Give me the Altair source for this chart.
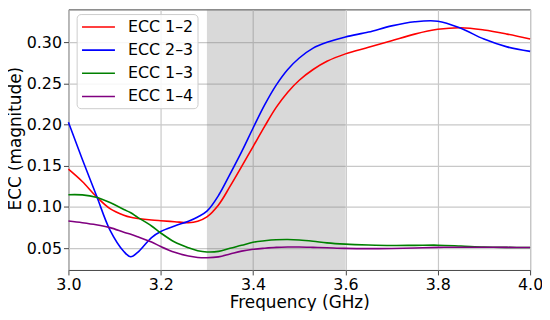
import altair as alt
import pandas as pd

freq = [3.00, 3.03, 3.06, 3.09, 3.12, 3.135, 3.15, 3.18, 3.20, 3.23, 3.26, 3.28,
        3.30, 3.325, 3.35, 3.375, 3.40, 3.425, 3.45, 3.475, 3.50, 3.53, 3.56,
        3.60, 3.65, 3.70, 3.75, 3.80, 3.85, 3.90, 3.95, 4.00]

ecc_12 = [0.146, 0.131, 0.113, 0.098, 0.090, 0.0875, 0.0862, 0.0843, 0.0834, 0.0822, 0.0810, 0.0828,
          0.088, 0.1025, 0.125, 0.149, 0.1735, 0.198, 0.221, 0.2395, 0.254, 0.267, 0.277,
          0.286, 0.294, 0.302, 0.310, 0.3158, 0.3178, 0.315, 0.310, 0.304]
ecc_23 = [0.203, 0.158, 0.115, 0.072, 0.046, 0.0396, 0.045, 0.063, 0.0704, 0.077, 0.0828, 0.088,
          0.095, 0.114, 0.140, 0.167, 0.196, 0.224, 0.248, 0.267, 0.281, 0.293, 0.300,
          0.3066, 0.3125, 0.320, 0.325, 0.3257, 0.317, 0.304, 0.2945, 0.289]
ecc_13 = [0.115, 0.1148, 0.112, 0.1055, 0.097, 0.093, 0.0875, 0.077, 0.0685, 0.0575, 0.0505, 0.047,
          0.0455, 0.0462, 0.050, 0.0535, 0.0572, 0.059, 0.0602, 0.0605, 0.060, 0.0585, 0.0565,
          0.055, 0.054, 0.0534, 0.0535, 0.0537, 0.0527, 0.0515, 0.051, 0.0508]
ecc_14 = [0.083, 0.081, 0.0785, 0.075, 0.0695, 0.067, 0.064, 0.0575, 0.052, 0.045, 0.0405, 0.0388,
          0.0384, 0.0395, 0.043, 0.0465, 0.0487, 0.050, 0.051, 0.0514, 0.0514, 0.051, 0.0505,
          0.0498, 0.0495, 0.0497, 0.0503, 0.051, 0.0512, 0.0512, 0.051, 0.0508]

series_names = ["ECC 1–2", "ECC 2–3", "ECC 1–3", "ECC 1–4"]
series_colors = ["#ff0000", "#0000ff", "#008000", "#800080"]
band_start = [3.3]
band_end = [3.6]
x_ticks = [3.0, 3.2, 3.4, 3.6, 3.8, 4.0]
y_ticks = [0.05, 0.10, 0.15, 0.20, 0.25, 0.30]
x_domain = [3.0, 4.0]
y_domain = [0.0236, 0.340]

rows = []
for name, vals in zip(series_names, [ecc_12, ecc_23, ecc_13, ecc_14]):
    for f, v in zip(freq, vals):
        rows.append({"freq": f, "ecc": v, "series": name})
df = pd.DataFrame(rows)
band_df = pd.DataFrame({"start": band_start, "end": band_end})

W, H = 466, 263
FONT = "DejaVu Sans"

xscale = alt.Scale(domain=x_domain, nice=False, zero=False)
yscale = alt.Scale(domain=y_domain, nice=False, zero=False)

band = alt.Chart(band_df).mark_rect(color="#808080", opacity=0.3).encode(
    x=alt.X("start:Q", scale=xscale,
            axis=alt.Axis(values=x_ticks, format=".1f", title="Frequency (GHz)",
                          titleY=38, titleBaseline="alphabetic")),
    x2="end:Q",
    y=alt.value(0),
    y2=alt.value(H),
)

lines = alt.Chart(df).mark_line(strokeWidth=1.6, interpolate="catmull-rom").encode(
    x=alt.X("freq:Q", scale=xscale),
    y=alt.Y("ecc:Q", scale=yscale,
            axis=alt.Axis(values=y_ticks, format=".2f", title="ECC (magnitude)",
                          titleX=-53.5, titleY=130, titleBaseline="middle", titleAngle=270)),
    color=alt.Color("series:N",
                    scale=alt.Scale(domain=series_names, range=series_colors),
                    sort=series_names,
                    legend=alt.Legend(title=None, orient="none", legendX=8.3, legendY=4.7,
                                      fillColor="rgba(255,255,255,0.85)", strokeColor="#cccccc",
                                      cornerRadius=4, padding=3.5,
                                      symbolType="M-0.92,0H3.11", symbolSize=272,
                                      symbolStrokeWidth=1.6, symbolFillColor="transparent",
                                      labelFontSize=16,
                                      labelFont=FONT, labelColor="#000000",
                                      labelOffset=29.2, rowPadding=5.4)),
)

chart = alt.layer(band, lines).properties(
    width=W, height=H,
    autosize=alt.AutoSizeParams(type="none"),
    padding={"left": 61, "top": 0, "right": 12, "bottom": 40},
).configure_view(
    stroke="#444444", strokeWidth=1
).configure_axis(
    labelFont=FONT, titleFont=FONT, labelFontSize=16, titleFontSize=17,
    labelColor="#000000", titleColor="#000000", titleFontWeight="normal",
    domain=False, tickSize=5, tickColor="#444444", tickWidth=1, labelPadding=2,
    gridColor="#c8c8c8", gridWidth=1.2, labelFlush=False, labelOverlap=False,
)

chart.save("out.html", embed_options={"renderer": "svg", "actions": False})
